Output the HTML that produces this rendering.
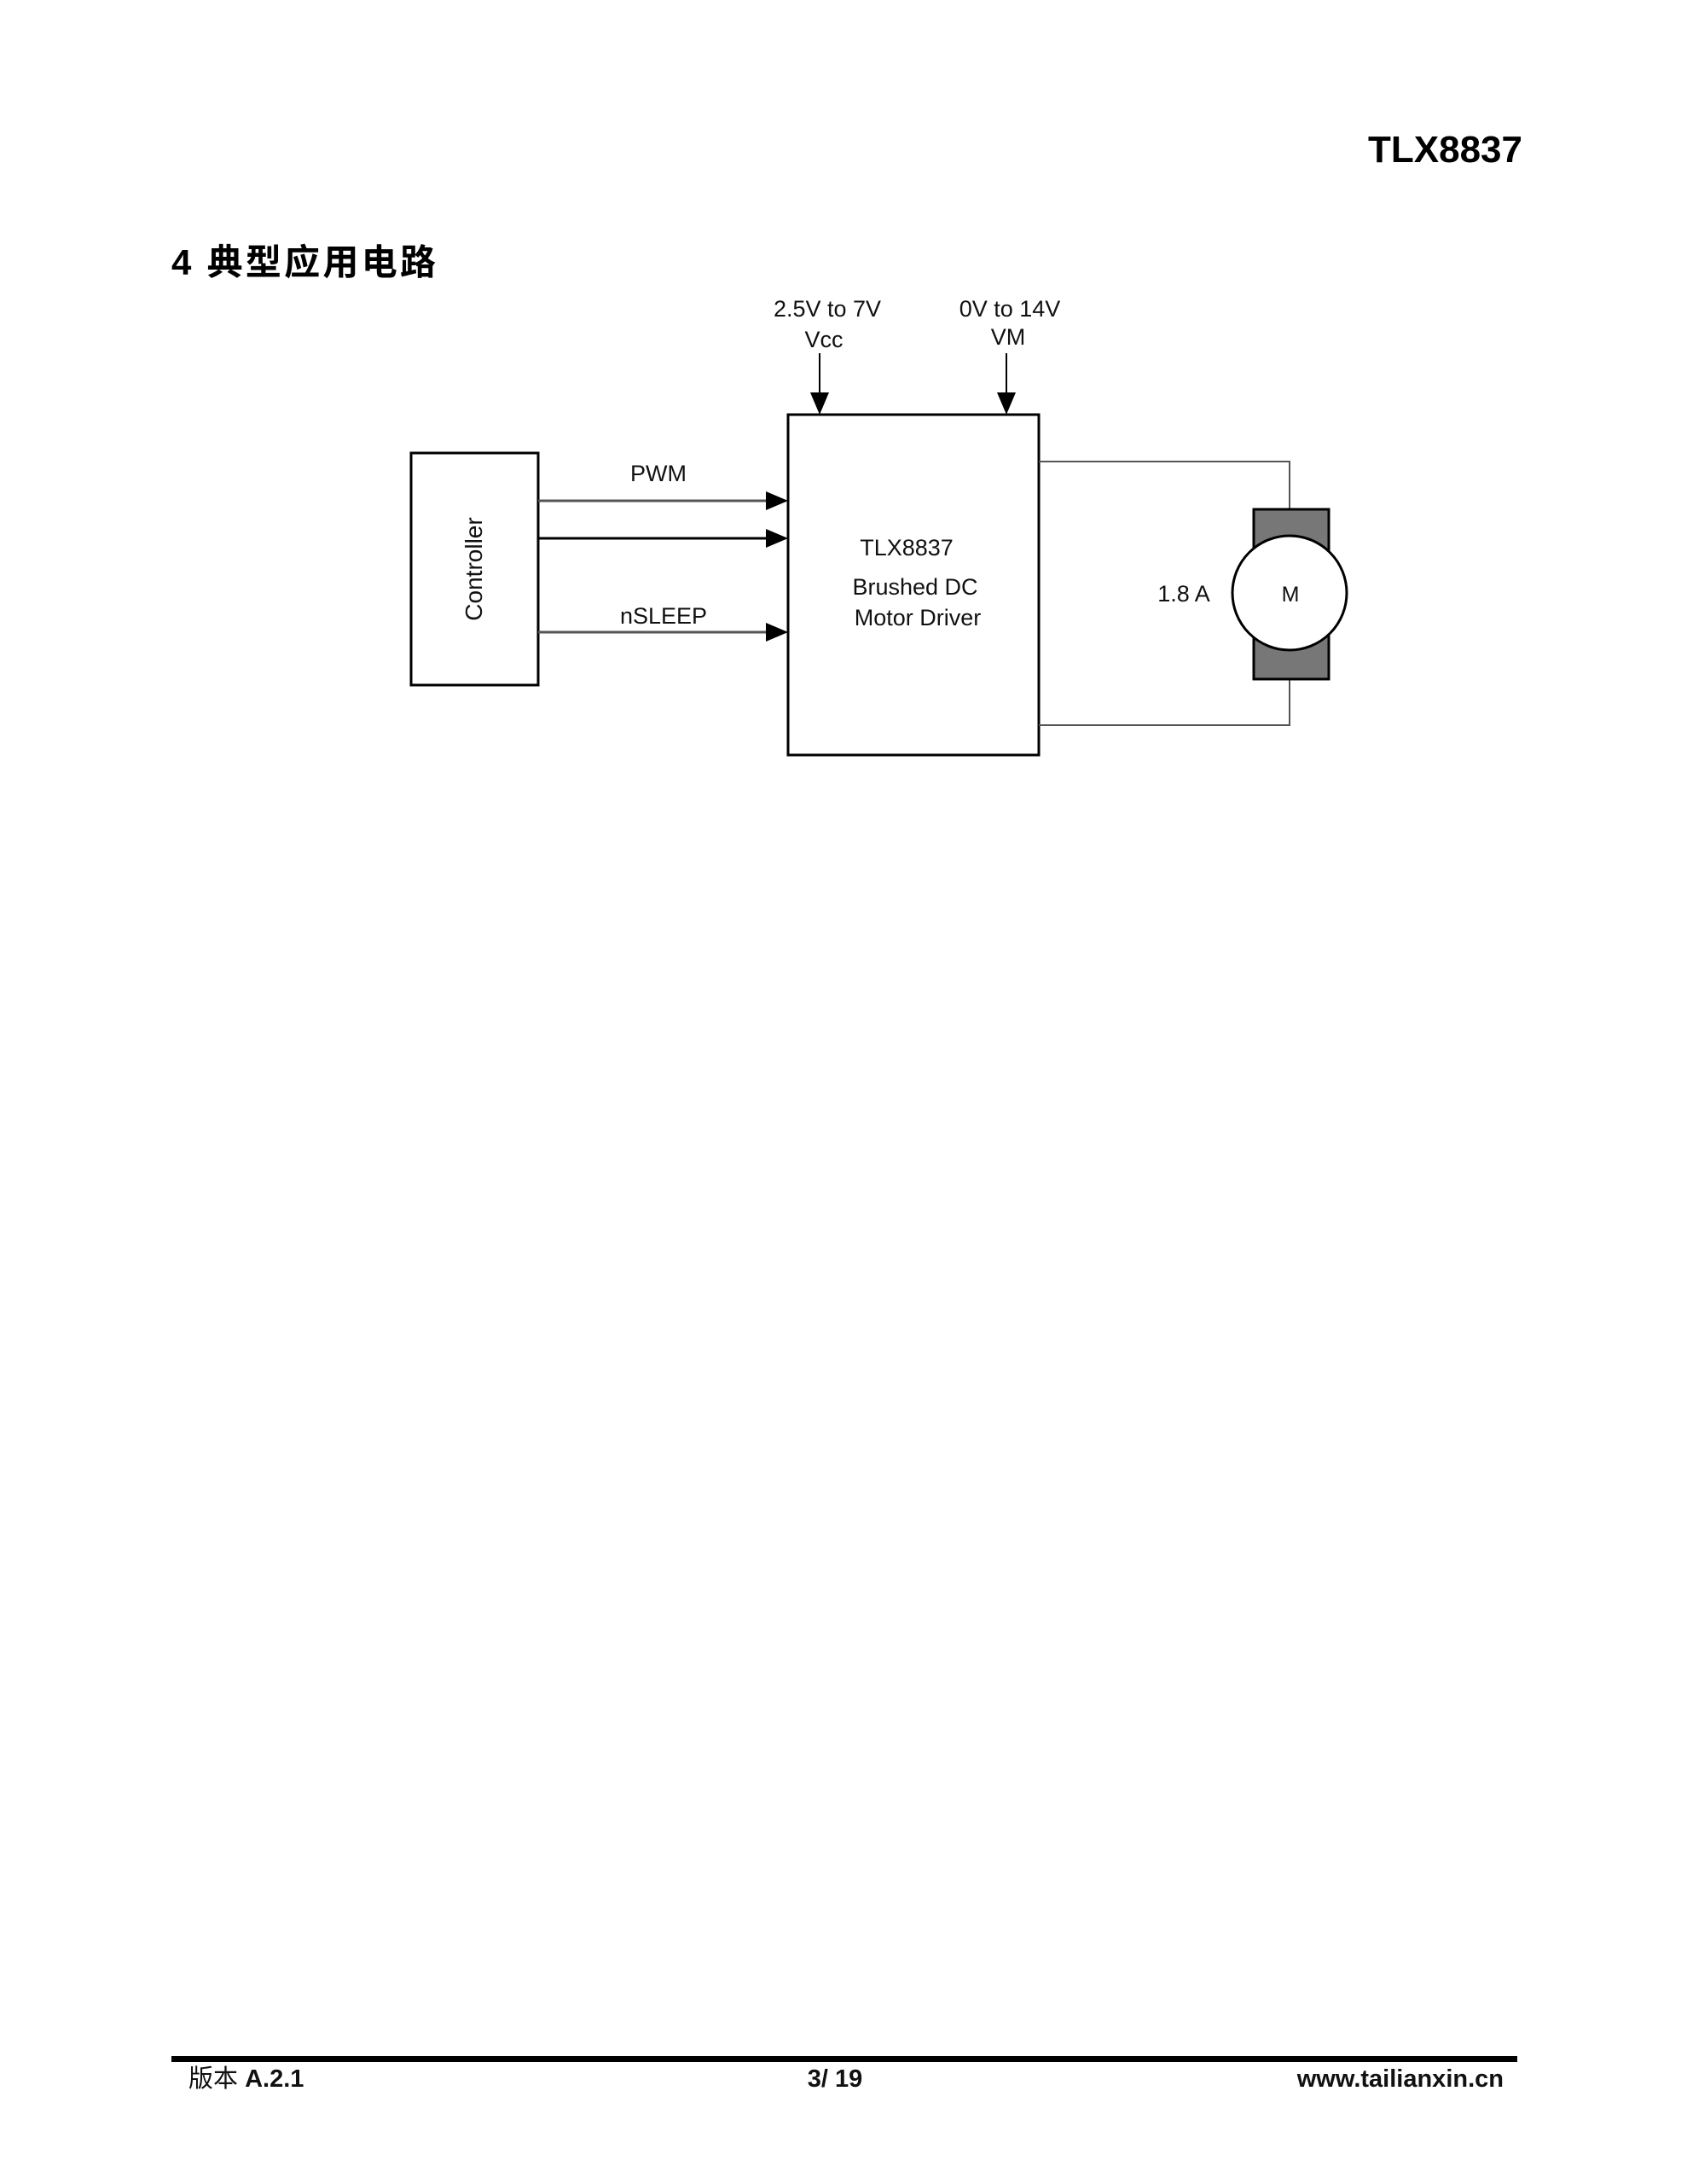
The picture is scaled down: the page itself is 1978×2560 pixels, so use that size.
<!DOCTYPE html>
<html><head><meta charset="utf-8"><style>
body{margin:0;background:#fff;}
svg{display:block}
</style></head><body>
<svg width="1978" height="2560" viewBox="0 0 1978 2560" xmlns="http://www.w3.org/2000/svg" font-family="'Liberation Sans','Noto Sans CJK SC',sans-serif">
<text x="1785" y="190" text-anchor="end" font-size="44" font-weight="bold">TLX8837</text>
<text x="201" y="322" font-size="42" font-weight="bold" textLength="310">4 典型应用电路</text>

<g stroke="#000" fill="none">
<rect x="482" y="531" width="149" height="272" stroke-width="3"/>
<rect x="924" y="486" width="294" height="399" stroke-width="3"/>
<line x1="631" y1="587" x2="900" y2="587" stroke="#555" stroke-width="3"/>
<line x1="631" y1="631" x2="900" y2="631" stroke-width="3"/>
<line x1="631" y1="741" x2="900" y2="741" stroke="#555" stroke-width="3"/>
<line x1="961" y1="414" x2="961" y2="462" stroke-width="2"/>
<line x1="1180" y1="414" x2="1180" y2="462" stroke-width="2"/>
<polyline points="1218,541 1512,541 1512,597" stroke="#555" stroke-width="2"/>
<polyline points="1218,850 1512,850 1512,796" stroke="#555" stroke-width="2"/>
<rect x="1470" y="597" width="88" height="199" fill="#777" stroke-width="3"/>
<circle cx="1512" cy="695" r="67" fill="#fff" stroke-width="3"/>
</g>
<g fill="#000">
<polygon points="898,576 924,587 898,598"/>
<polygon points="898,620 924,631 898,642"/>
<polygon points="898,730 924,741 898,752"/>
<polygon points="950,460 972,460 961,486"/>
<polygon points="1169,460 1191,460 1180,486"/>
</g>

<g font-size="27" fill="#111" text-anchor="middle">
<text x="970" y="371">2.5V to 7V</text>
<text x="966" y="407">Vcc</text>
<text x="1184" y="371">0V to 14V</text>
<text x="1182" y="404">VM</text>
<text x="772" y="564">PWM</text>
<text x="778" y="731">nSLEEP</text>
<text x="1063" y="651">TLX8837</text>
<text x="1073" y="697">Brushed DC</text>
<text x="1076" y="733">Motor Driver</text>
<text x="1388" y="705">1.8 A</text>
<text x="1513" y="705" font-size="25">M</text>
<text transform="translate(565,667) rotate(-90)" font-size="28">Controller</text>
</g>

<rect x="201" y="2410" width="1578" height="7" fill="#000"/>
<g font-size="29" fill="#111">
<text x="221" y="2446" font-weight="normal">版本 <tspan font-weight="bold">A.2.1</tspan></text>
<text x="979" y="2446" text-anchor="middle" font-weight="bold">3/ 19</text>
<text x="1763" y="2446" text-anchor="end" font-weight="bold">www.tailianxin.cn</text>
</g>
</svg>
</body></html>
